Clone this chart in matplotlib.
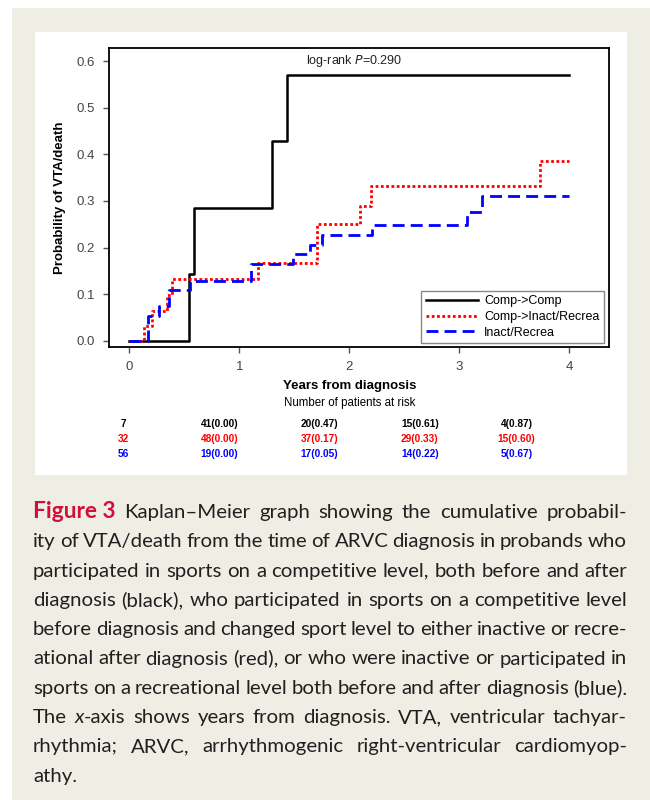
import matplotlib
matplotlib.use('Agg')
import matplotlib.pyplot as plt
import matplotlib.transforms as mtransforms
from matplotlib.patches import Rectangle

# Kaplan-Meier step curves
black_t = [0, 0.54, 0.585, 1.30, 1.435, 4.0]
black_p = [0, 0.143, 0.286, 0.429, 0.571, 0.571]
red_t = [0, 0.13, 0.21, 0.34, 0.39, 1.17, 1.71, 2.10, 2.20, 3.73, 4.0]
red_p = [0, 0.031, 0.065, 0.098, 0.133, 0.167, 0.25, 0.29, 0.333, 0.385, 0.385]
blue_t = [0, 0.17, 0.27, 0.36, 0.55, 1.11, 1.49, 1.64, 1.75, 2.21, 3.07, 3.21, 4.0]
blue_p = [0, 0.054, 0.075, 0.109, 0.128, 0.166, 0.186, 0.205, 0.227, 0.248, 0.277, 0.31, 0.31]
labels = ['Comp->Comp', 'Comp->Inact/Recrea', 'Inact/Recrea']

# numbers at risk
risk_x = [-0.05, 0.82, 1.73, 2.64, 3.52]
risk_black = ['7', '41(0.00)', '20(0.47)', '15(0.61)', '4(0.87)']
risk_red = ['32', '48(0.00)', '37(0.17)', '29(0.33)', '15(0.60)']
risk_blue = ['56', '19(0.00)', '17(0.05)', '14(0.22)', '5(0.67)']

caption = [
    'Kaplan–Meier graph showing the cumulative probabil-',
    'ity of VTA/death from the time of ARVC diagnosis in probands who',
    'participated in sports on a competitive level, both before and after',
    'diagnosis (black), who participated in sports on a competitive level',
    'before diagnosis and changed sport level to either inactive or recre-',
    'ational after diagnosis (red), or who were inactive or participated in',
    'sports on a recreational level both before and after diagnosis (blue).',
    'The _x_-axis shows years from diagnosis. VTA, ventricular tachyar-',
    'rhythmia; ARVC, arrhythmogenic right-ventricular cardiomyop-',
    'athy.',
]

W, H = 650, 800
fig = plt.figure(figsize=(6.5, 8), dpi=100, facecolor='white')
fig.patches.append(Rectangle((12 / W, 0), 1, 1 - 8 / H, transform=fig.transFigure,
                             facecolor='#efeee5', edgecolor='none', zorder=-10))
fig.patches.append(Rectangle((35 / W, 1 - 475 / H), (627 - 35) / W, (475 - 32) / H,
                             transform=fig.transFigure, facecolor='white',
                             edgecolor='none', zorder=-9))

ax = fig.add_axes([109 / W, 1 - 347 / H, 500 / W, 299 / H])
ax.set_facecolor('white')
ax.plot(black_t, black_p, drawstyle='steps-post', color='black', lw=1.8, label=labels[0])
ax.plot(red_t, red_p, drawstyle='steps-post', color='#ff0000', lw=2.0,
        linestyle=(0, (1.0, 0.9)), label=labels[1])
ax.plot(blue_t, blue_p, drawstyle='steps-post', color='#0000ff', lw=2.0,
        linestyle=(0, (4.3, 2.2)), label=labels[2])

ax.set_xlim(-0.185, 4.36)
ax.set_ylim(-0.013, 0.628)
ax.set_xticks([0, 1, 2, 3, 4])
ax.set_yticks([0.0, 0.1, 0.2, 0.3, 0.4, 0.5, 0.6])
ax.set_yticklabels(['0.0', '0.1', '0.2', '0.3', '0.4', '0.5', '0.6'])
ax.tick_params(direction='out', length=4, width=1, color='#555555',
               labelcolor='#444444', labelsize=9.5, pad=6)
for sp in ax.spines.values():
    sp.set_linewidth(1.3)
    sp.set_color('black')

fam = ['Liberation Sans', 'DejaVu Sans']
for t in ax.get_xticklabels() + ax.get_yticklabels():
    t.set_family(fam)

ax.set_ylabel('Probability of VTA/death', fontsize=9.5, fontweight='bold',
              family=fam, labelpad=8)
ax.text(0.395, 0.955, 'log-rank $\\it{P}$=0.290', transform=ax.transAxes,
        fontsize=9, family=fam, ha='left', va='center', color='#222222')

leg = ax.legend(loc='lower right', bbox_to_anchor=(0.99, 0.013), borderaxespad=0,
                fancybox=False, edgecolor='#888888', framealpha=1,
                prop={'family': fam, 'size': 9}, handlelength=4.2,
                labelspacing=0.3, borderpad=0.35, handletextpad=0.5)
leg.get_frame().set_linewidth(1.0)

bt = mtransforms.blended_transform_factory(ax.transData, fig.transFigure)
ax.text(2.0, 1 - 386 / H, 'Years from diagnosis', transform=bt, ha='center', va='center',
        fontsize=9.5, fontweight='bold', family=fam)
ax.text(2.0, 1 - 403 / H, 'Number of patients at risk', transform=bt, ha='center',
        va='center', fontsize=8.3, family=fam)
for row, col, yy in [(risk_black, 'black', 424), (risk_red, '#ff0000', 439),
                     (risk_blue, '#0000ff', 454)]:
    for xx, s in zip(risk_x, row):
        ax.text(xx, 1 - yy / H, s, transform=bt, ha='center', va='center',
                fontsize=7.3, fontweight='bold', family=fam, color=col)

# justified caption
renderer = fig.canvas.get_renderer()
cap_font = ['Lato', 'DejaVu Sans']
FIG_SCALE = 1.12


def seg_width(s, size, st='normal'):
    if st == 'bold':
        t = fig.text(0, 0, s, fontsize=size * FIG_SCALE, fontweight='bold', family=cap_font)
    else:
        t = fig.text(0, 0, s, fontsize=size, fontstyle=st, family=cap_font)
    w = t.get_window_extent(renderer).width
    t.remove()
    return w


def parse(word):
    parts = word.split('_')
    return [(p, 'italic' if i % 2 else 'normal') for i, p in enumerate(parts) if p]


left, right = 33, 627
lines = []
for i, line in enumerate(caption):
    words = [parse(w) for w in line.split(' ')]
    if i == 0:
        words = [[('Figure 3', 'bold')]] + words
    lines.append(words)


def natural(size):
    sp = seg_width('n n', size) - seg_width('nn', size)
    worst = 0
    for words in lines[:-1]:
        tot = sum(seg_width(s, size, st) for w in words for s, st in w)
        worst = max(worst, tot + sp * 0.8 * (len(words) - 1))
    return worst, sp


size = 14.0
for _ in range(3):
    worst, sp = natural(size)
    size = size * (right - left) / worst
worst, sp = natural(size)

y0, dy = 518, 29.3
for i, words in enumerate(lines):
    widths = [[seg_width(s, size, st) for s, st in w] for w in words]
    tot = sum(sum(ws) for ws in widths)
    if i < len(lines) - 1 and len(words) > 1:
        gap = (right - left - tot) / (len(words) - 1)
    else:
        gap = sp
    x = left
    yb = 1 - (y0 + i * dy) / H
    for w, ws in zip(words, widths):
        for (s, st), wd in zip(w, ws):
            if st == 'bold':
                fig.text(x / W, yb, s, fontsize=size * FIG_SCALE, fontweight='bold',
                         family=cap_font, color='#d0103a', va='baseline')
            else:
                fig.text(x / W, yb, s, fontsize=size, fontstyle=st,
                         family=cap_font, color='#231f20', va='baseline')
            x += wd
        x += gap

fig.savefig('out.png', dpi=100)
